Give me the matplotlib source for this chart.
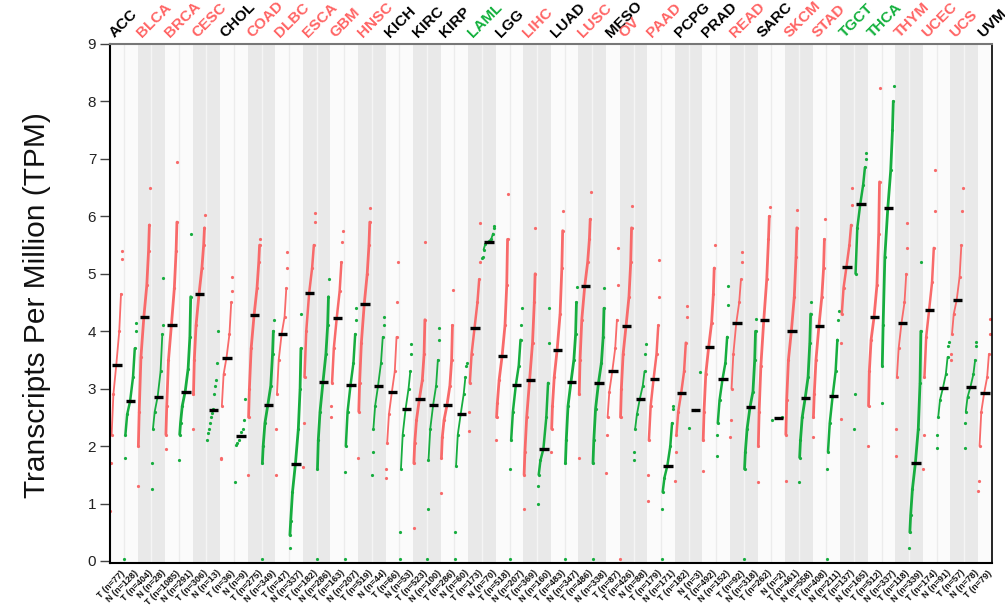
import numpy as np
import matplotlib
matplotlib.use('Agg')
import matplotlib.pyplot as plt
from matplotlib.patches import Rectangle

plt.rcParams['font.family'] = ['Liberation Sans', 'DejaVu Sans']

# ---------------- data ----------------
cancers = ['ACC', 'BLCA', 'BRCA', 'CESC', 'CHOL', 'COAD', 'DLBC', 'ESCA', 'GBM', 'HNSC',
           'KICH', 'KIRC', 'KIRP', 'LAML', 'LGG', 'LIHC', 'LUAD', 'LUSC', 'MESO', 'OV',
           'PAAD', 'PCPG', 'PRAD', 'READ', 'SARC', 'SKCM', 'STAD', 'TGCT', 'THCA', 'THYM',
           'UCEC', 'UCS', 'UVM']
# 'up' = higher in tumor (red), 'down' = lower in tumor (green), 'ns' = black
status = ['ns', 'up', 'up', 'up', 'ns', 'up', 'up', 'up', 'up', 'up',
          'ns', 'ns', 'ns', 'down', 'ns', 'up', 'ns', 'up', 'ns', 'up',
          'up', 'ns', 'ns', 'up', 'ns', 'up', 'up', 'down', 'down', 'up',
          'up', 'up', 'ns']
tumor_n = [77, 404, 1085, 306, 36, 275, 47, 182, 163, 519,
           66, 523, 286, 173, 518, 369, 483, 486, 87, 426,
           179, 182, 492, 92, 262, 461, 408, 137, 512, 118,
           174, 57, 79]
normal_n = [128, 28, 291, 13, 9, 349, 337, 286, 207, 44,
            53, 100, 60, 70, 207, 160, 347, 338, None, 88,
            171, 3, 152, 318, 2, 558, 211, 165, 337, 339,
            91, 78, None]

# quantiles of expression per column (tumor, normal, ... in cancer order)
q_levels = [0.0, 0.03, 0.10, 0.25, 0.50, 0.75, 0.90, 0.97, 1.0]
q_min = [0.87, 0.04, 1.30, 1.25, 1.95, 1.75, 2.30, None,
         1.77, None, 1.50, 0.04, 1.50, 0.22, 1.64, 0.04,
         2.50, 0.04, 1.80, 1.50, 1.45, 0.04, 0.58, 0.04,
         1.19, 0.04, 2.27, 5.27, 2.10, 0.04, 0.90, 1.00,
         1.90, 0.04, 1.80, 0.04, 1.53, 0.04, 1.75, 1.04,
         0.04, 1.40, None, 1.57, 1.83, 2.15, 0.04, 1.37,
         None, 1.40, 1.37, 2.15, 0.04, 2.47, 2.30, 2.00,
         2.75, 1.83, 0.22, 1.60, 1.96, 3.49, 1.96, 1.21]
q03 = [1.70, 1.80, 2.00, 1.70, 2.20, 2.20, 2.90, None,
       1.80, None, 2.50, 1.70, 2.30, 0.45, 2.40, 1.60,
       2.70, 1.55, 2.60, 1.90, 1.60, 0.50, 1.70, 0.90,
       1.80, 0.50, 2.60, 5.30, 2.50, 1.60, 1.50, 1.30,
       2.30, 1.70, 2.90, 1.70, 2.20, 2.50, 1.90, 1.50,
       0.90, 1.90, None, 2.10, 2.20, 2.45, 1.60, 2.00,
       None, 2.20, 1.80, 2.50, 1.60, 3.80, 2.90, 2.70,
       3.40, 2.30, 0.50, 2.20, 2.20, 3.60, 2.40, 1.40]
q10 = [2.20, 2.20, 2.60, 2.30, 2.70, 2.40, 3.50, None,
       2.70, None, 3.00, 2.00, 2.90, 0.70, 3.20, 2.10,
       3.10, 2.00, 3.10, 2.30, 2.05, 1.60, 2.05, 1.75,
       2.15, 1.65, 3.10, 5.42, 2.75, 2.10, 1.90, 1.50,
       2.70, 2.10, 3.50, 2.10, 2.50, 3.00, 2.30, 2.10,
       1.20, 2.20, None, 2.60, 2.40, 3.00, 1.90, 2.60,
       None, 2.80, 2.10, 2.90, 1.90, 4.30, 5.00, 3.30,
       4.10, 3.20, 0.80, 3.20, 2.50, 3.95, 2.60, 2.00]
q25 = [2.90, 2.55, 3.55, 2.60, 3.50, 2.70, 4.10, None,
       3.25, None, 3.70, 2.40, 3.50, 1.20, 4.00, 2.60,
       3.70, 2.60, 3.80, 2.70, 2.55, 2.20, 2.45, 2.30,
       2.45, 2.20, 3.60, 5.52, 3.15, 2.60, 2.50, 1.75,
       3.20, 2.70, 4.20, 2.65, 2.95, 3.60, 2.55, 2.70,
       1.45, 2.60, None, 3.25, 2.80, 3.60, 2.30, 3.40,
       None, 3.50, 2.50, 3.50, 2.40, 4.75, 5.80, 3.85,
       5.30, 3.70, 1.25, 3.90, 2.80, 4.30, 2.85, 2.60]
q50 = [3.42, 2.78, 4.25, 2.86, 4.11, 2.95, 4.64, None,
       3.54, None, 4.28, 2.72, 3.95, 1.69, 4.67, 3.11,
       4.23, 3.06, 4.48, 3.05, 2.94, 2.65, 2.82, 2.72,
       2.71, 2.56, 4.05, 5.56, 3.56, 3.06, 3.15, 1.95,
       3.68, 3.11, 4.78, 3.10, 3.30, 4.09, 2.82, 3.17,
       1.66, 2.92, None, 3.73, 3.16, 4.14, 2.68, 4.20,
       None, 4.00, 2.83, 4.09, 2.88, 5.12, 6.21, 4.24,
       6.14, 4.15, 1.70, 4.37, 3.01, 4.54, 3.03, 2.93]
q75 = [4.00, 3.20, 4.80, 3.30, 4.75, 3.35, 5.10, None,
       3.95, None, 4.75, 3.05, 4.25, 2.30, 5.10, 3.60,
       4.70, 3.45, 5.00, 3.45, 3.30, 3.00, 3.15, 3.05,
       3.05, 2.90, 4.50, 5.60, 4.10, 3.40, 3.80, 2.50,
       4.30, 3.50, 5.20, 3.45, 3.70, 4.60, 3.05, 3.60,
       2.00, 3.30, None, 4.15, 3.45, 4.50, 2.95, 4.90,
       None, 4.60, 3.20, 4.60, 3.30, 5.50, 6.55, 4.80,
       6.80, 4.50, 2.30, 4.85, 3.25, 4.95, 3.25, 3.20]
q90 = [4.65, 3.70, 5.40, 3.95, 5.40, 3.90, 5.50, None,
       4.50, None, 5.20, 3.60, 4.75, 3.00, 5.50, 4.10,
       5.20, 3.95, 5.50, 3.90, 3.90, 3.30, 3.60, 3.50,
       3.50, 3.20, 4.90, 5.70, 4.80, 3.85, 4.50, 3.10,
       5.10, 3.95, 5.60, 3.90, 4.20, 5.20, 3.30, 4.10,
       2.40, 3.80, None, 4.65, 3.90, 4.90, 3.50, 5.60,
       None, 5.30, 3.80, 5.10, 3.85, 5.85, 6.85, 5.70,
       7.50, 5.00, 3.10, 5.45, 3.55, 5.50, 3.50, 3.60]
q97 = [5.25, 4.00, 5.85, 4.10, 5.90, 4.60, 5.80, None,
       4.70, None, 5.50, 4.00, 5.10, 3.70, 5.90, 4.60,
       5.55, 4.20, 5.90, 4.10, 4.50, 3.60, 4.20, 3.85,
       4.10, 3.40, 5.20, 5.80, 5.60, 4.10, 5.00, 3.80,
       5.75, 4.50, 5.95, 4.40, 4.80, 5.80, 3.60, 4.60,
       2.65, 4.25, None, 5.10, 4.45, 5.20, 4.00, 6.00,
       None, 5.80, 4.30, 5.60, 4.20, 6.20, 7.00, 6.60,
       8.00, 5.45, 4.00, 6.10, 3.75, 6.10, 3.75, 3.95]
q_max = [5.40, 4.14, 6.50, 4.92, 6.95, 5.70, 6.03, None,
         4.94, None, 5.60, 4.20, 5.38, 4.30, 6.05, 4.90,
         5.75, 4.40, 6.14, 4.25, 5.20, 3.77, 5.56, 4.05,
         4.71, 3.45, 5.89, 5.84, 6.38, 4.40, 5.80, 4.40,
         6.10, 4.77, 6.43, 4.76, 5.44, 6.18, 3.78, 5.24,
         2.70, 4.44, None, 5.50, 4.79, 5.38, 4.22, 6.17,
         None, 6.11, 4.51, 5.95, 4.35, 6.50, 7.10, 8.23,
         8.27, 5.89, 5.20, 6.80, 3.81, 6.50, 3.81, 4.22]

# small normal groups drawn point by point
small_normal_points = {
    'CESC': [2.10, 2.23, 2.30, 2.40, 2.50, 2.57, 2.63, 2.65, 2.90, 3.05, 3.15, 3.45, 4.00],
    'CHOL': [1.38, 2.02, 2.05, 2.10, 2.18, 2.25, 2.30, 2.45, 2.82],
    'PCPG': [2.32, 2.62, 3.29],
    'SARC': [2.46, 2.50],
}

# ---------------- style ----------------
RED = '#f86a6a'
GREEN = '#17ad3f'
LABEL_COL = {'up': '#ff6464', 'down': '#12b03c', 'ns': '#000000'}
BAND_LIGHT = '#fbfbfb'
BAND_GREY = '#e9e9e9'

fig = plt.figure(figsize=(10.05, 6.06), dpi=100)
ax = fig.add_axes([0.1095, 0.0715, 0.8773, 0.8559])

columns = []  # (cancer index, group, n)
for i, c in enumerate(cancers):
    columns.append((i, 'T', tumor_n[i]))
    if normal_n[i] is not None:
        columns.append((i, 'N', normal_n[i]))
ncol = len(columns)
ymin, ymax = -0.03, 9.0

for k, (ci, grp, n) in enumerate(columns):
    band = BAND_GREY if ci % 2 == 1 else BAND_LIGHT
    ax.add_patch(Rectangle((k, ymin), 1, ymax - ymin, facecolor=band,
                           edgecolor='none', zorder=0))
    if grp == 'N':
        div = '#f5f5f5' if ci % 2 == 1 else '#ececec'
        ax.axvline(k, color=div, lw=1.0, zorder=0.5)

for k, (ci, grp, n) in enumerate(columns):
    color = RED if grp == 'T' else GREEN
    c = cancers[ci]
    if grp == 'N' and c in small_normal_points:
        pts = sorted(small_normal_points[c])
        m = len(pts)
        xs = [k + 0.06 + 0.75 * (r / (m - 1)) for r in range(m)]
        ax.plot(xs, pts, 'o', ms=2.3, color=color, mec='none', zorder=2)
        med = float(np.median(pts))
    else:
        vals = [q_min[k], q03[k], q10[k], q25[k], q50[k], q75[k], q90[k], q97[k], q_max[k]]
        xs = [k + 0.03 + 0.85 * q for q in q_levels]
        if n >= 250:
            lo, hi, lw = 1, 8, 2.0
        elif n >= 120:
            lo, hi, lw = 2, 7, 1.8
        else:
            lo, hi, lw = 2, 7, 1.3
        ax.plot(xs[lo:hi], vals[lo:hi], '-', lw=lw, color=color, zorder=2,
                solid_capstyle='round')
        ax.plot(xs, vals, 'o', ms=2.3, color=color, mec='none', zorder=2)
        med = q50[k]
    ax.hlines(med, k + 0.16, k + 0.84, color='black', lw=2.4, zorder=3)

    ax.text(k + 0.72, ymin - 0.1, f'{grp} (n={n})', rotation=45, ha='right', va='top',
            rotation_mode='anchor', fontsize=6.5, fontweight='bold', color='#111111',
            clip_on=False)

for k, (ci, grp, n) in enumerate(columns):
    if grp == 'T':
        ax.text(k + 0.5, ymax + 0.07, cancers[ci], rotation=45, ha='left', va='bottom',
                rotation_mode='anchor', fontsize=11, fontweight='bold',
                color=LABEL_COL[status[ci]], clip_on=False)

ax.set_xlim(0, ncol)
ax.set_ylim(ymin, ymax)
ax.set_xticks([])
ax.set_yticks(range(0, 10))
ax.tick_params(axis='y', length=7, width=1.0, color='#444444', labelsize=11,
               labelcolor='#222222', pad=3)
for side in ['left', 'bottom', 'right']:
    ax.spines[side].set_color('black')
ax.spines['left'].set_linewidth(1.5)
ax.spines['bottom'].set_linewidth(1.5)
ax.spines['right'].set_linewidth(1.2)
ax.spines['top'].set_color('#777777')
ax.spines['top'].set_linewidth(1.5)

fig.text(0.037, 0.497, 'Transcripts Per Million (TPM)', rotation=90, ha='center',
         va='center', fontsize=21.5, color='#111111')

fig.savefig('out.png', dpi=100)
